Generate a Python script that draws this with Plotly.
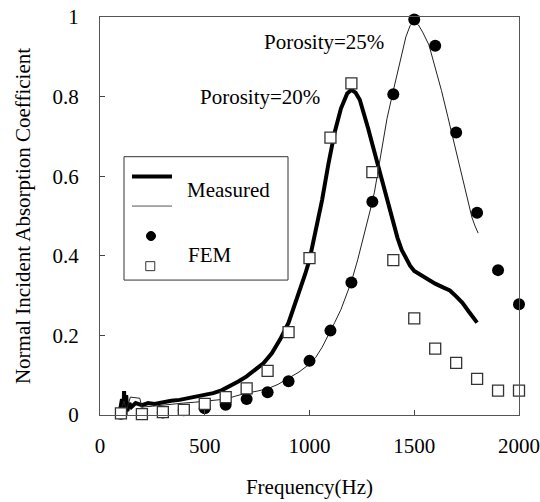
import plotly.graph_objects as go

# ---- Data ----
# Measured, porosity 20% (thick line)
meas20_f = [95, 105, 110, 115, 120, 125, 130, 140, 150, 170, 200, 230, 260, 300, 340, 380,
            420, 460, 500, 540, 580, 620, 660, 700, 740, 780, 820, 860, 900, 940, 980,
            1000, 1030, 1060, 1090, 1120, 1150, 1180, 1200, 1220, 1240, 1260, 1280, 1300,
            1320, 1340, 1360, 1380, 1400, 1420, 1440, 1460, 1480, 1500, 1530, 1560, 1600,
            1640, 1670, 1700, 1730, 1760, 1780, 1800]
meas20_a = [0.010, 0.040, -0.020, 0.060, -0.030, 0.050, 0.010, 0.030, 0.020, 0.030, 0.025,
            0.030, 0.028, 0.033, 0.036, 0.038, 0.042, 0.045, 0.050, 0.055, 0.062, 0.072,
            0.084, 0.097, 0.112, 0.130, 0.155, 0.190, 0.232, 0.290, 0.355, 0.390, 0.460,
            0.540, 0.630, 0.710, 0.770, 0.808, 0.817, 0.810, 0.792, 0.760, 0.720, 0.680,
            0.640, 0.600, 0.557, 0.518, 0.480, 0.445, 0.415, 0.393, 0.375, 0.362, 0.352,
            0.342, 0.330, 0.320, 0.313, 0.298, 0.282, 0.260, 0.247, 0.232]

# Measured, porosity 25% (thin line)
meas25_f = [95, 105, 115, 125, 135, 145, 190, 200, 250, 300, 350, 400, 450, 500, 550, 600,
            650, 700, 750, 800, 850, 900, 950, 1000, 1030, 1060, 1090, 1120, 1150, 1180,
            1200, 1230, 1260, 1290, 1310, 1340, 1370, 1400, 1430, 1460, 1480, 1500, 1520,
            1540, 1570, 1600, 1630, 1660, 1690, 1720, 1750, 1775, 1790, 1805]
meas25_a = [0.005, 0.020, 0.035, 0.010, 0.030, 0.045, 0.042, 0.020, 0.022, 0.025, 0.028,
            0.030, 0.032, 0.035, 0.037, 0.040, 0.048, 0.055, 0.060, 0.066, 0.077, 0.092,
            0.108, 0.128, 0.145, 0.170, 0.200, 0.232, 0.265, 0.305, 0.335, 0.390, 0.450,
            0.515, 0.560, 0.650, 0.745, 0.815, 0.885, 0.950, 0.978, 0.990, 0.980, 0.962,
            0.930, 0.875, 0.815, 0.750, 0.685, 0.620, 0.550, 0.497, 0.475, 0.457]

# FEM results
fem_f = [100, 200, 300, 400, 500, 600, 700, 800, 900, 1000,
         1100, 1200, 1300, 1400, 1500, 1600, 1700, 1800, 1900, 2000]
fem20_a = [0.004, 0.002, 0.007, 0.013, 0.028, 0.045, 0.067, 0.111, 0.208, 0.394,
           0.697, 0.833, 0.610, 0.389, 0.243, 0.167, 0.131, 0.091, 0.061, 0.061]
fem25_a = [0.003, 0.004, 0.006, 0.012, 0.017, 0.026, 0.040, 0.057, 0.085, 0.136,
           0.212, 0.333, 0.536, 0.806, 0.994, 0.928, 0.710, 0.508, 0.364, 0.278]

x_ticks = [0, 500, 1000, 1500, 2000]
y_ticks = [0, 0.2, 0.4, 0.6, 0.8, 1]
y_tick_text = ["0", "0.2", "0.4", "0.6", "0.8", "1"]

FONT = "Liberation Serif"
FS = 21

fig = go.Figure()
fig.add_trace(go.Scatter(x=meas20_f, y=meas20_a, mode="lines", name="Measured (20%)",
                         line=dict(color="black", width=4), showlegend=False))
fig.add_trace(go.Scatter(x=meas25_f, y=meas25_a, mode="lines", name="Measured (25%)",
                         line=dict(color="#222", width=1), showlegend=False))
fig.add_trace(go.Scatter(x=fem_f, y=fem25_a, mode="markers", name="FEM (25%)",
                         marker=dict(symbol="circle", size=12, color="black"),
                         cliponaxis=False, showlegend=False))
fig.add_trace(go.Scatter(x=fem_f, y=fem20_a, mode="markers", name="FEM (20%)",
                         marker=dict(symbol="square", size=11, color="white",
                                     line=dict(color="#333", width=1.3)),
                         cliponaxis=False, showlegend=False))

# Hand-built legend (matches the reference's boxed layout)
shapes = [
    dict(type="rect", xref="paper", yref="paper", x0=0.0573, x1=0.4487, y0=0.339, y1=0.649,
         line=dict(color="#333", width=1), fillcolor="white", layer="above"),
    dict(type="line", xref="paper", yref="paper", x0=0.0764, x1=0.1718, y0=0.599, y1=0.599,
         line=dict(color="black", width=4), layer="above"),
    dict(type="line", xref="paper", yref="paper", x0=0.0764, x1=0.1718, y0=0.525, y1=0.525,
         line=dict(color="#555", width=1), layer="above"),
    dict(type="circle", xref="paper", yref="paper", xsizemode="pixel", ysizemode="pixel",
         xanchor=0.1217, yanchor=0.4497, x0=-4.5, x1=4.5, y0=-4.5, y1=4.5,
         fillcolor="black", line=dict(color="black", width=1), layer="above"),
    dict(type="rect", xref="paper", yref="paper", xsizemode="pixel", ysizemode="pixel",
         xanchor=0.12, yanchor=0.374, x0=-4.5, x1=4.5, y0=-4.5, y1=4.5,
         fillcolor="white", line=dict(color="#333", width=1), layer="above"),
]
annotations = [
    dict(xref="paper", yref="paper", x=0.2029, y=0.565, text="Measured", showarrow=False,
         xanchor="left", yanchor="middle", font=dict(family=FONT, size=FS, color="black")),
    dict(xref="paper", yref="paper", x=0.205, y=0.402, text="FEM", showarrow=False,
         xanchor="left", yanchor="middle", font=dict(family=FONT, size=FS, color="black")),
    dict(x=1070, y=0.938, text="Porosity=25%", showarrow=False, xanchor="center",
         yanchor="middle", font=dict(family=FONT, size=FS, color="black")),
    dict(x=762, y=0.80, text="Porosity=20%", showarrow=False, xanchor="center",
         yanchor="middle", font=dict(family=FONT, size=FS, color="black")),
]

fig.update_layout(
    width=540, height=502,
    margin=dict(l=100, r=21, t=17, b=87),
    paper_bgcolor="white", plot_bgcolor="white",
    font=dict(family=FONT, size=FS, color="black"),
    shapes=shapes, annotations=annotations,
    showlegend=False,
)
fig.update_xaxes(
    range=[0, 2000], tickvals=x_ticks, ticks="inside", ticklen=5, tickcolor="#444",
    showline=True, linecolor="#555", linewidth=1, mirror=True, showgrid=False,
    zeroline=False, ticklabelstandoff=12, automargin=False,
    title=dict(text="Frequency(Hz)", standoff=22, font=dict(family=FONT, size=FS)),
)
fig.update_yaxes(
    range=[0, 1], tickvals=y_ticks, ticktext=y_tick_text, ticks="inside", ticklen=5,
    tickcolor="#444", showline=True, linecolor="#555", linewidth=1, mirror=True,
    showgrid=False, zeroline=False, ticklabelstandoff=16, automargin=False,
    title=dict(text="Normal Incident Absorption Coefficient", standoff=16,
               font=dict(family=FONT, size=FS)),
)

fig.write_html("out.html", config={"displayModeBar": False},
               post_script="document.body.style.margin='0';document.body.style.padding='0';")
